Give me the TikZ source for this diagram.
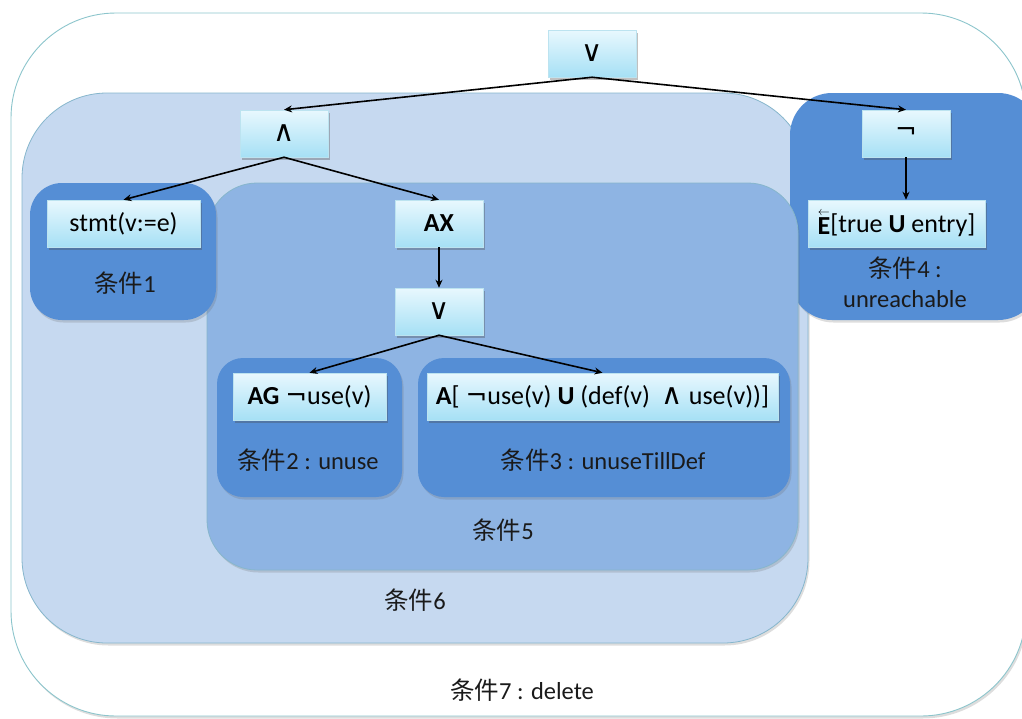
\documentclass[tikz,border=0pt]{standalone}
\usepackage{fontspec}
\setmainfont{Carlito}
\newfontfamily\cjk{Noto Sans CJK SC}
\newfontfamily\logicfont{DejaVu Sans}
\usetikzlibrary{arrows.meta,shadows}

\definecolor{outerline}{HTML}{8CC5CC}
\definecolor{regionline}{HTML}{86B6CC}
\definecolor{condsix}{HTML}{C6D9F0}
\definecolor{condfive}{HTML}{8EB4E3}
\definecolor{conddark}{HTML}{558ED5}
\definecolor{boxtop}{HTML}{E8F8FE}
\definecolor{boxbot}{HTML}{A6E0F5}
\definecolor{boxline}{HTML}{BCE3F0}
\definecolor{labeltext}{HTML}{1A1A1A}

% logic connectives set in a sans face
\newcommand{\orsym}{{\logicfont\fontsize{29}{30}\selectfont ∨}}
\newcommand{\andsym}{{\logicfont\fontsize{29}{30}\selectfont ∧}}
\newcommand{\notsym}{{\logicfont\fontsize{26}{30}\selectfont ¬}}

\tikzset{
  softshadow/.style={drop shadow={shadow xshift=1.5pt,shadow yshift=-2.5pt,opacity=.22,fill=black!60}},
  outerregion/.style={draw=outerline,fill=white,line width=0.9pt,rounded corners=105pt,softshadow},
  lightregion/.style={draw=regionline,fill=condsix,line width=0.8pt,rounded corners=85pt,softshadow},
  midregion/.style={draw=regionline,fill=condfive,line width=0.8pt,rounded corners=50pt,softshadow},
  darkregion/.style={fill=conddark,rounded corners=#1,softshadow},
  formula/.style={draw=boxline,line width=0.5pt,top color=boxtop,bottom color=boxbot,
    minimum height=47pt,inner sep=0pt,font=\fontsize{26}{30}\selectfont,text=black,
    drop shadow={shadow xshift=2pt,shadow yshift=-3pt,opacity=.35,fill=black!70}},
  condlabel/.style={font=\fontsize{24.5}{30}\selectfont,text=labeltext,align=center,inner sep=0pt},
  link/.style={-{Stealth[length=8pt,width=7pt]},line width=1.6pt,black},
}

\begin{document}
\begin{tikzpicture}[x=1pt,y=-1pt]
  \useasboundingbox (0,0) rectangle (1022,718);

  % nested condition regions
  \path[outerregion] (11,13) rectangle (1026,716);
  \path[lightregion] (22,93) rectangle (808,643);
  \path[darkregion=42pt] (790,93) rectangle (1040,320);
  \path[midregion] (207,183) rectangle (798,570);
  \path[darkregion=32pt] (30,183) rectangle (216,320);
  \path[darkregion=26pt] (217,358) rectangle (402,497);
  \path[darkregion=26pt] (418,358) rectangle (790,497);

  % formula boxes
  \node[formula,minimum width=88pt]  (orTop)  at (592,53.5)  {\orsym};
  \node[formula,minimum width=88pt]  (andN)   at (284,133.5) {\andsym};
  \node[formula,minimum width=88pt]  (notN)   at (906,133.5) {\notsym};
  \node[formula,minimum width=153pt] (stmt)   at (123.5,223.5) {stmt(v:=e)};
  \node[formula,minimum width=88pt]  (ax)     at (439,223.5) {\textbf{AX}};
  \node[formula,minimum width=177pt] (entry)  at (896.5,223.5)
    {$\stackrel{\scriptscriptstyle\leftarrow}{\mathbf{E}}$[true \textbf{U} entry]};
  \node[formula,minimum width=88pt]  (orMid)  at (439,311.5) {\orsym};
  \node[formula,minimum width=153pt] (ag)     at (309.5,396.5) {\textbf{AG} \notsym use(v)};
  \node[formula,minimum width=351pt] (until)  at (602.5,396.5)
    {\textbf{A}[ \notsym use(v) \textbf{U} (def(v) \ \andsym\ use(v))]};

  % region labels
  \node[condlabel] (c1) at (125,283) {{\cjk 条件}1};
  \node[condlabel] (c4) at (905,282) {{\cjk 条件}4 :\\unreachable};
  \node[condlabel] (c2) at (308,460) {{\cjk 条件}2 : unuse};
  \node[condlabel] (c3) at (603,460) {{\cjk 条件}3 : unuseTillDef};
  \node[condlabel] (c5) at (503,530) {{\cjk 条件}5};
  \node[condlabel] (c6) at (415,600) {{\cjk 条件}6};
  \node[condlabel] (c7) at (522,690) {{\cjk 条件}7 : delete};

  % connectors
  \draw[link] (orTop.south) -- (andN.north);
  \draw[link] (orTop.south) -- (notN.north);
  \draw[link] (andN.south) -- (stmt.north);
  \draw[link] (andN.south) -- (ax.north);
  \draw[link] (ax.south) -- (orMid.north);
  \draw[link] (notN.south) -- (notN.south |- entry.north);
  \draw[link] (orMid.south) -- (ag.north);
  \draw[link] (orMid.south) -- (until.north);
\end{tikzpicture}
\end{document}
